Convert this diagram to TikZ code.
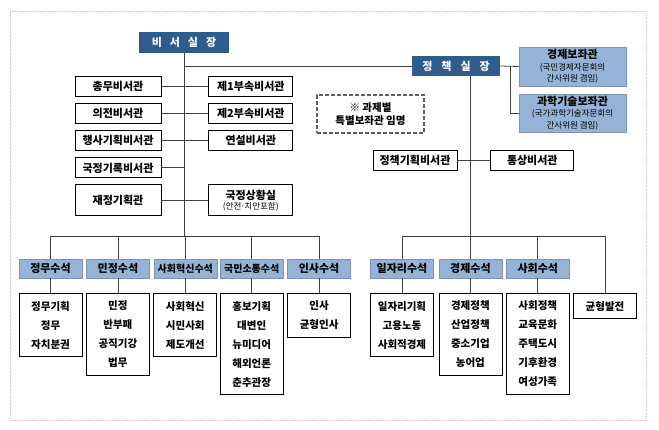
\documentclass[tikz,border=0pt]{standalone}
\usepackage{fontspec}
\setmainfont{Noto Sans CJK KR}
\usetikzlibrary{positioning}
\definecolor{chiefblue}{HTML}{2F5C8C}
\definecolor{headblue}{HTML}{95B3D7}
\definecolor{headedge}{HTML}{7F93B0}
\definecolor{wiregray}{HTML}{404040}

\begin{document}
\begin{tikzpicture}[x=1pt, y=-1pt,
	chief/.style={fill=chiefblue, text=white, font=\bfseries\fontsize{11}{12}\selectfont, minimum height=21pt, inner sep=0pt},
	sec/.style={draw, line width=0.8pt, font=\bfseries\fontsize{11}{12}\selectfont, minimum height=20pt, inner sep=0pt},
	head/.style={draw=headedge, fill=headblue, font=\bfseries\fontsize{11}{12}\selectfont, minimum width=63pt, minimum height=19pt, inner sep=0pt},
	adv/.style={draw=headedge, fill=headblue, align=center, minimum width=107pt, inner sep=0pt, font=\fontsize{8.5}{11.5}\selectfont},
	unit/.style={draw, line width=0.8pt, align=center, minimum width=63pt, inner xsep=0pt, inner ysep=7.5pt, font=\bfseries\fontsize{10.5}{19}\selectfont},
	wire/.style={draw=wiregray, line width=0.8pt}]
	\useasboundingbox (0,0) rectangle (659,430);
	\draw[gray!45, line width=0.5pt, dash pattern=on 2pt off 1.5pt] (10,11) rectangle (646,420);

	\node[chief, minimum width=90pt] (chief) at (184,42.5) {비\hspace{8pt}서\hspace{8pt}실\hspace{8pt}장};
	\node[chief, minimum width=88pt, minimum height=20pt] (policy) at (456,66) {정\hspace{9pt}책\hspace{9pt}실\hspace{9pt}장};

	\node[adv, minimum height=39pt] (econadv) at (572.5,66.5) {{\bfseries\fontsize{11}{12}\selectfont 경제보좌관}\\(국민경제자문회의\\간사위원 겸임)};
	\node[adv, minimum height=38pt] (sciadv) at (572.5,113) {{\bfseries\fontsize{11}{12}\selectfont 과학기술보좌관}\\(국가과학기술자문회의\\간사위원 겸임)};
	\node[draw=gray!75!black, line width=1.2pt, dash pattern=on 4pt off 2pt, align=center, minimum width=107pt, minimum height=38pt, font=\bfseries\fontsize{10.5}{13}\selectfont] (note) at (370.5,114) {※ 과제별\\특별보좌관 임명};

	\node[sec, minimum width=86pt] (sec1) at (118,86) {총무비서관};
	\node[sec, minimum width=86pt, below=6.5pt of sec1] (sec2) {의전비서관};
	\node[sec, minimum width=86pt, below=6.5pt of sec2] (sec3) {행사기획비서관};
	\node[sec, minimum width=86pt, below=6.5pt of sec3] (sec4) {국정기록비서관};
	\node[sec, minimum width=86pt, minimum height=31pt, below=6pt of sec4] (sec5) {재정기획관};
	\node[sec, minimum width=84pt, right=47pt of sec1] (sub1) {제1부속비서관};
	\node[sec, minimum width=84pt, right=47pt of sec2] (sub2) {제2부속비서관};
	\node[sec, minimum width=84pt, right=47pt of sec3] (sub3) {연설비서관};
	\node[sec, minimum width=84pt, minimum height=31pt, align=center, right=47pt of sec5] (sub5) {국정상황실\\[-2pt]{\mdseries\fontsize{8.5}{10}\selectfont(안전\makebox[3pt]{·}치안포함)}};

	\node[sec, minimum width=84pt] (psec) at (415,160) {정책기획비서관};
	\node[sec, minimum width=83pt, right=33pt of psec] (trade) {통상비서관};

	\node[head] (hd1) at (50.5,268.5) {정무수석};
	\node[head, right=4pt of hd1] (hd2) {민정수석};
	\node[head, right=4pt of hd2, font=\bfseries\fontsize{10}{12}\selectfont] (hd3) {사회혁신수석};
	\node[head, right=3pt of hd3, font=\bfseries\fontsize{10}{12}\selectfont] (hd4) {국민소통수석};
	\node[head, right=4pt of hd4] (hd5) {인사수석};
	\node[head] (rd1) at (402,268.5) {일자리수석};
	\node[head, right=5pt of rd1] (rd2) {경제수석};
	\node[head, right=4pt of rd2] (rd3) {사회수석};

	\node[unit, below=15pt of hd1] (ut1) {정무기획\\정무\\자치분권};
	\node[unit, below=15pt of hd2] (ut2) {민정\\반부패\\공직기강\\법무};
	\node[unit, below=15pt of hd3] (ut3) {사회혁신\\시민사회\\제도개선};
	\node[unit, below=15pt of hd4] (ut4) {홍보기획\\대변인\\뉴미디어\\해외언론\\춘추관장};
	\node[unit, below=15pt of hd5] (ut5) {인사\\균형인사};
	\node[unit, below=15pt of rd1] (ut6) {일자리기획\\고용노동\\사회적경제};
	\node[unit, below=15pt of rd2] (ut7) {경제정책\\산업정책\\중소기업\\농어업};
	\node[unit, below=15pt of rd3] (ut8) {사회정책\\교육문화\\주택도시\\기후환경\\여성가족};
	\node[unit, anchor=north] (ut9) at (605,293.5) {균형발전};

	\coordinate (lbus) at (chief |- 0,236);
	\coordinate (rbus) at (rd2 |- 0,236);
	\draw[wire] (chief.south) -- (lbus);
	\draw[wire] (chief.south |- policy.west) -- (policy.west);
	\foreach \i in {1,2,3,5}
		\draw[wire] (sec\i.east) -- (sub\i.west);
	\draw[wire] (sec4.east) -- (sec4.east -| chief);
	\draw[wire] (policy.east) -- (econadv.west);
	\draw[wire] ([xshift=10pt]policy.east) |- (sciadv.west);
	\draw[wire] (policy.south -| rbus) -- (rbus);
	\draw[wire] (psec.east) -- (trade.west);

	\draw[wire] (hd1 |- lbus) -- (hd5 |- lbus);
	\foreach \i in {1,...,5}
		\draw[wire] (hd\i.north) -- (hd\i |- lbus) (hd\i.south) -- (ut\i.north);
	\draw[wire] (rd1 |- rbus) -- (ut9 |- rbus);
	\foreach \i/\j in {1/6,2/7,3/8}
		\draw[wire] (rd\i.north) -- (rd\i |- rbus) (rd\i.south) -- (ut\j.north);
	\draw[wire] (ut9.north) -- (ut9 |- rbus);
\end{tikzpicture}
\end{document}
